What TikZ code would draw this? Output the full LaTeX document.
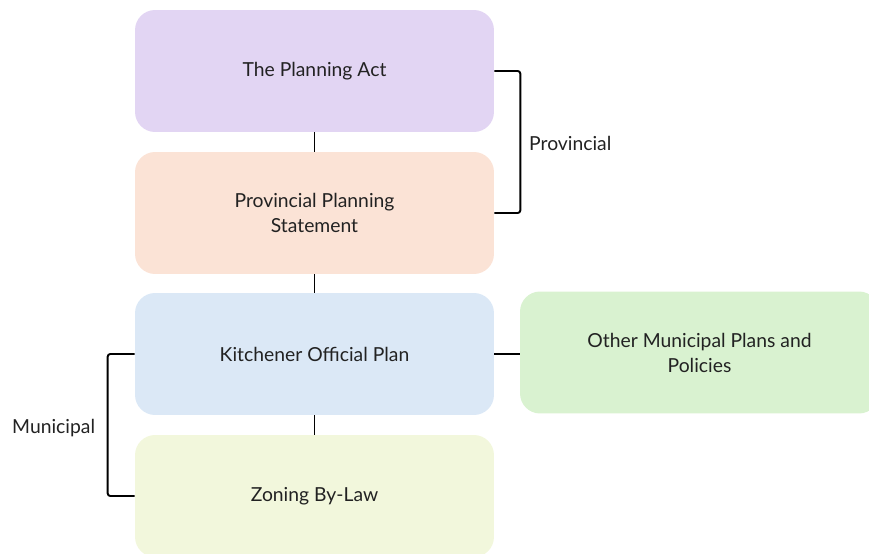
\documentclass[tikz,border=0pt]{standalone}
\usepackage{fontspec}
\setmainfont{Lato}
\usepackage{xcolor}
\usetikzlibrary{positioning}
\tikzset{%
  planbox/.style={rectangle,rounded corners=0.4cm,minimum width=7.18cm,minimum height=2.44cm,align=center,font=\fontsize{11}{14.2}\selectfont,text=textgrey},
  link/.style={line width=1.1pt},
  bracket/.style={line width=1.1pt,rounded corners=1.5pt},
  label/.style={anchor=west,font=\fontsize{11}{13}\selectfont,text=textgrey},
}
\definecolor{textgrey}{HTML}{222222}
\definecolor{actpurple}{HTML}{E2D5F3}
\definecolor{ppspeach}{HTML}{FBE3D6}
\definecolor{planblue}{HTML}{DBE8F6}
\definecolor{zoneyellow}{HTML}{F2F7DC}
\definecolor{othergreen}{HTML}{D9F2D0}

\begin{document}
\begin{tikzpicture}[x=0.02cm,y=-0.02cm]
      \clip (0,0) rectangle (869,554);

      \node[planbox,fill=actpurple] (node_act) at (314.5,71) {The Planning Act};
      \node[planbox,fill=ppspeach] (node_pps) at (314.5,213) {Provincial Planning\\Statement};
      \node[planbox,fill=planblue] (node_kop) at (314.5,354) {Kitchener Official Plan};
      \node[planbox,fill=zoneyellow] (node_zoning) at (314.5,496) {Zoning By-Law};

      \node[planbox,fill=othergreen] (node_other) at (699.5,352.5) {Other Municipal Plans and\\Policies};

      \draw[link] (node_act) -- (node_pps);
      \draw[link] (node_pps) -- (node_kop);
      \draw[link] (node_kop) -- (node_zoning);
      \draw[link] (node_kop.east) -- (node_kop.east -| node_other.west);

      \draw[bracket] (node_act.east) -- ++(26,0) |- (node_pps.east);
      \draw[bracket] (node_kop.west) -- ++(-27,0) |- (node_zoning.west);

      \node[label] (label_prov) at (523,143) {Provincial};
      \node[label] (label_muni) at (6,428) {Municipal};
    \end{tikzpicture}
\end{document}
